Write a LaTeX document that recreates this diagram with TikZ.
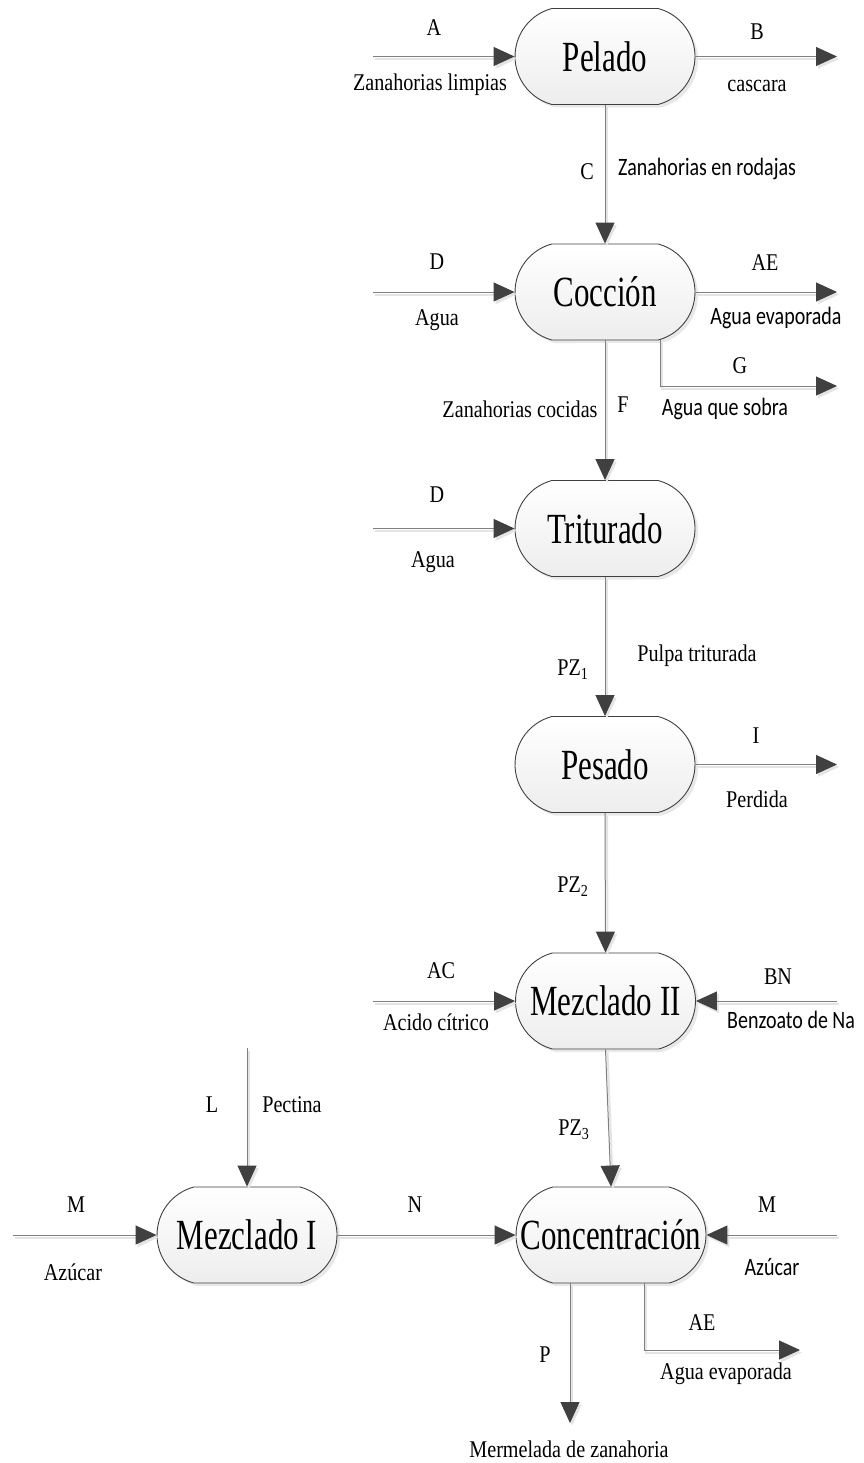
\documentclass[tikz,border=0pt]{standalone}
\usepackage{fontspec}
\setmainfont{Liberation Serif}
\newfontfamily\smlfont[FakeStretch=0.84]{Liberation Serif}
\newfontfamily\procfont[FakeStretch=0.72]{Liberation Serif}
\newfontfamily\sanslfont[FakeStretch=0.8]{Carlito}
\usetikzlibrary{shapes.misc,arrows.meta,shadows,calc}
\definecolor{linegray}{HTML}{7F7F7F}
\definecolor{tipgray}{HTML}{404040}
\definecolor{shadegray}{HTML}{E4E4E4}
\begin{document}
\begin{tikzpicture}[x=1pt,y=-1pt,
 proc/.style={rounded rectangle, rounded rectangle arc length=150, draw=tipgray, line width=0.9pt,
   top color=white, bottom color=gray!14, minimum width=180pt, minimum height=96pt, inner sep=0pt,
   font=\procfont\fontsize{43}{46}\selectfont,
   drop shadow={shadow xshift=3pt, shadow yshift=-3pt, fill=gray!30, opacity=0.6}},
 lbl/.style={inner sep=0pt, text height=15pt, text depth=0pt, font=\smlfont\fontsize{24}{27}\selectfont},
 slbl/.style={inner sep=0pt, text height=15pt, text depth=0pt, font=\sanslfont\fontsize{25}{28}\selectfont},
 flow/.style={draw=linegray, line width=1pt, -{Triangle[length=21pt,width=19pt,color=tipgray]},
   preaction={draw=shadegray, line width=2pt, -{Triangle[length=21pt,width=19pt,color=shadegray]},
     transform canvas={shift={(2pt,-2.5pt)}}}}
]
\useasboundingbox (0,0) rectangle (863,1463);
\fill[white] (0,0) rectangle (863,1463);

% process boxes
\node[proc] (pel)  at (605,56.5)  {Pelado};
\node[proc] (coc)  at (605,292)   {Cocción};
\node[proc] (tri)  at (605,528.5) {Triturado};
\node[proc] (pes)  at (605,764.5) {Pesado};
\node[proc] (mez2) at (605.5,1001) {Mezclado II};
\node[proc, minimum width=190pt] (conc) at (611,1235) {Concentración};
\node[proc] (mez1) at (247,1235) {Mezclado I};

% free ends
\coordinate (aIn)  at (373,56.5);
\coordinate (bOut) at (837,56.5);
\coordinate (dIn)  at (373,292);
\coordinate (aeOut) at (837,292);
\coordinate (gOut) at (837,386);
\coordinate (d2In) at (373,528.5);
\coordinate (iOut) at (837,764.5);
\coordinate (acIn) at (373,1001);
\coordinate (bnIn) at (837,1001);
\coordinate (lIn)  at (247,1048);
\coordinate (mIn)  at (13,1235);
\coordinate (m2In) at (837,1235);
\coordinate (pOut) at (570,1423);
\coordinate (ae2Out) at (800,1350);

% connectors
\draw[flow] (aIn) -- (pel.west);
\draw[flow] (pel.east) -- (bOut);
\draw[flow] (pel.south) -- (coc.north);
\draw[flow] (dIn) -- (coc.west);
\draw[flow] (coc.east) -- (aeOut);
\draw[flow] ($(coc.south)+(55,0)$) |- (gOut);
\draw[flow] (coc.south) -- (tri.north);
\draw[flow] (d2In) -- (tri.west);
\draw[flow] (tri.south) -- (pes.north);
\draw[flow] (pes.east) -- (iOut);
\draw[flow] (pes.south) -- (mez2.north);
\draw[flow] (acIn) -- (mez2.west);
\draw[flow] (bnIn) -- (mez2.east);
\draw[flow] (mez2.south) -- (conc.north);
\draw[flow] (lIn) -- (mez1.north);
\draw[flow] (mIn) -- (mez1.west);
\draw[flow] (mez1.east) -- (conc.west);
\draw[flow] (m2In) -- (conc.east);
\draw[flow] ($(conc.south)+(-41,0)$) -- (pOut);
\draw[flow] ($(conc.south)+(33,0)$) |- (ae2Out);

% labels
\node[lbl] (tA) at (434,28) {A};
\node[lbl] (tZl) at (430,83) {Zanahorias limpias};
\node[lbl] (tB) at (757,32) {B};
\node[lbl] (tCas) at (757,84) {cascara};
\node[lbl] (tC) at (587,172) {C};
\node[slbl] (tZr) at (707,168) {Zanahorias en rodajas};
\node[lbl] (tD) at (437,262) {D};
\node[lbl] (tAg) at (437,318) {Agua};
\node[lbl] (tAE) at (765,263) {AE};
\node[slbl] (tAev) at (776,317) {Agua evaporada};
\node[lbl] (tG) at (740,366) {G};
\node[slbl] (tAqs) at (725,408) {Agua que sobra};
\node[lbl] (tF) at (623,405) {F};
\node[lbl] (tZc) at (520,410) {Zanahorias cocidas};
\node[lbl] (tD2) at (437,495) {D};
\node[lbl] (tAg2) at (433,560) {Agua};
\node[lbl] (tPZ1) at (573,668) {PZ\textsubscript{1}};
\node[lbl] (tPt) at (697,654) {Pulpa triturada};
\node[lbl] (tI) at (756,736) {I};
\node[lbl] (tPer) at (757,800) {Perdida};
\node[lbl] (tPZ2) at (573,885) {PZ\textsubscript{2}};
\node[lbl] (tAC) at (441,971) {AC};
\node[lbl] (tAcc) at (436,1023) {Acido cítrico};
\node[lbl] (tBN) at (778,977) {BN};
\node[slbl, anchor=west] (tBen) at (727,1021) {Benzoato de Na};
\node[lbl] (tL) at (212,1105) {L};
\node[lbl] (tPec) at (292,1105) {Pectina};
\node[lbl] (tPZ3) at (574,1128) {PZ\textsubscript{3}};
\node[lbl] (tM) at (76,1205) {M};
\node[lbl] (tAz) at (73,1273) {Azúcar};
\node[lbl] (tN) at (415,1205) {N};
\node[lbl] (tM2) at (767,1205) {M};
\node[slbl] (tAz2) at (772,1268) {Azúcar};
\node[lbl] (tAE2) at (702,1323) {AE};
\node[lbl] (tP) at (545,1355) {P};
\node[lbl] (tAev2) at (726,1372) {Agua evaporada};
\node[lbl] (tMer) at (569,1450) {Mermelada de zanahoria};
\end{tikzpicture}
\end{document}
